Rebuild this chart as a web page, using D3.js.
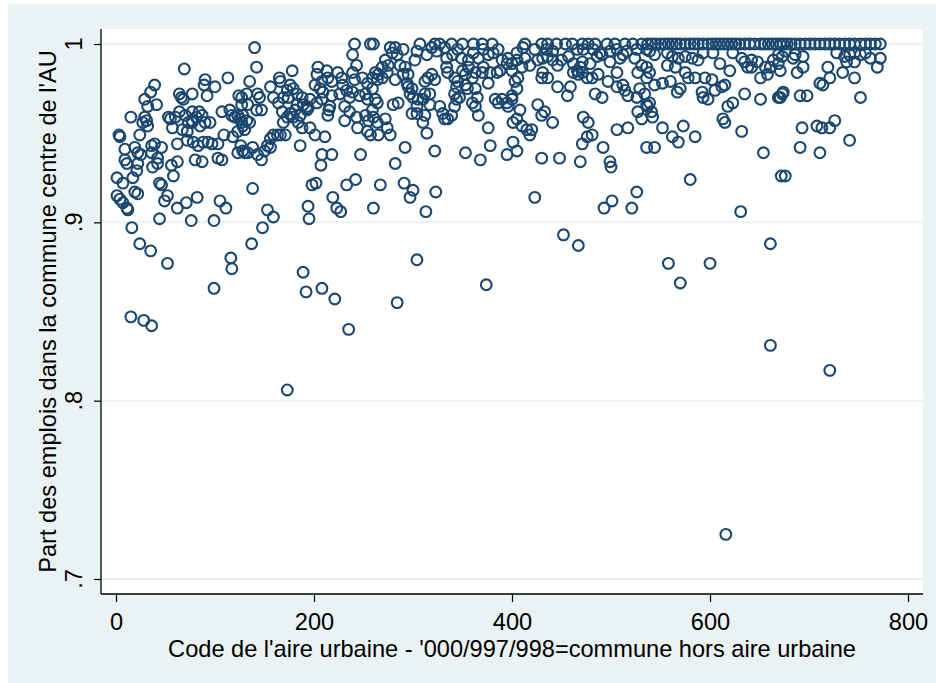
<!DOCTYPE html>
<html>
<head>
<meta charset="utf-8">
<script src="https://cdn.jsdelivr.net/npm/d3@7"></script>
<style>
  body { margin: 0; background: #fff; }
  text { font-family: "Liberation Sans", Arial, sans-serif; fill: #000; }
</style>
</head>
<body>
<svg width="936" height="683"></svg>
<script>
const xTicks = [0, 200, 400, 600, 800];
const yTicks = [0.7, 0.8, 0.9, 1];
const yTickLabels = [".7", ".8", ".9", "1"];
const xTitle = "Code de l'aire urbaine - '000/997/998=commune hors aire urbaine";
const yTitle = "Part des emplois dans la commune centre de l'AU";

// [code de l'aire urbaine, part des emplois]
const airesLow = [
  [69,.986],[39,.977],[35,.973],[29,.969],[32,.965],[41,.966],[15,.959],[29,.959],[31,.957],[27,.956],
  [32,.954],[24,.949],[3,.949],[4,.948],[9,.941],[19,.942],[22,.939],[25,.938],[36,.943],[39,.944],
  [46,.942],[36,.939],[42,.936],[9,.935],[64,.972],[66,.970],[68,.969],[77,.972],[90,.980],[89,.977],
  [100,.976],[92,.971],[113,.981],[53,.959],[55,.958],[60,.959],[64,.962],[70,.960],[77,.962],[84,.962],
  [87,.960],[73,.956],[77,.956],[81,.959],[90,.956],[95,.956],[85,.954],[57,.953],[67,.952],[72,.951],
  [62,.944],[72,.946],[78,.945],[83,.943],[88,.945],[93,.945],[97,.944],[103,.944],[107,.962],[115,.963],
  [117,.960],[120,.959],[123,.960],[127,.956],[109,.949],[118,.948],[123,.951],[126,.943],[123,.939],[103,.936],
  [107,.935],[80,.935],[87,.934],[42,.933],[62,.934],[22,.933],[124,.971],[127,.966],[77,.957],
  [1,.925],[7,.922],[1,.915],[4,.913],[7,.911],[11,.908],[12,.907],[16,.897],[17,.925],[21,.929],
  [19,.917],[22,.916],[11,.933],[37,.931],[56,.932],[58,.926],[44,.922],[46,.921],[52,.915],[49,.912],
  [62,.908],[71,.911],[82,.914],[44,.902],[76,.901],[99,.901],[105,.912],[111,.908],[138,.919],[153,.907],
  [159,.903],[148,.897],[15,.847],[28,.845],[36,.842],[24,.888],[35,.884],[52,.877],[99,.863],[117,.874],
  [116,.880],[137,.888],[173,.806]
];

const airesMidLow = [
  [140,.998],[142,.987],[178,.985],[135,.979],[165,.981],[166,.979],[156,.976],[159,.970],[132,.972],[127,.970],
  [143,.972],[145,.970],[133,.966],[142,.963],[147,.963],[128,.960],[132,.957],[135,.956],[128,.954],[130,.952],
  [125,.958],[176,.977],[179,.975],[173,.974],[183,.972],[174,.970],[188,.970],[196,.969],[169,.970],[164,.967],
  [168,.962],[176,.961],[181,.963],[186,.960],[173,.959],[179,.959],[194,.964],[169,.956],[184,.956],[171,.949],
  [166,.949],[163,.949],[159,.949],[156,.947],[153,.943],[156,.942],[150,.940],[138,.942],[133,.939],[128,.940],
  [130,.939],[143,.938],[147,.935],[186,.943],[188,.953],[196,.953],[201,.949],[211,.948],[208,.938],[218,.938],
  [193,.963],[204,.987],[203,.983],[213,.985],[214,.981],[208,.979],[201,.977],[206,.975],[218,.979],[224,.984],
  [228,.981],[229,.977],[233,.974],[226,.972],[218,.971],[209,.973],[208,.969],[203,.967],[216,.965],[214,.960],
  [215,.963],[231,.965],[236,.970],[239,.973],[246,.971],[241,.980],[239,.984],[243,.988],[239,.994],[241,1],
  [257,1],[260,1],[249,.981],[254,.978],[259,.981],[262,.984],[259,.975],[252,.972],[254,.969],[262,.969],
  [259,.963],[252,.960],[243,.959],[255,.957],[260,.959],[264,.956],[244,.953],[254,.951],[257,.949],[231,.957],
  [236,.962],[183,.966],[189,.966],[193,.965],
  [194,.909],[195,.902],[198,.921],[202,.922],[219,.914],[223,.908],[227,.906],[233,.921],[242,.924],[247,.938],
  [260,.908],[267,.921],[189,.872],[192,.861],[208,.863],[221,.857],[235,.840],[207,.932]
];

const airesMid = [
  [307,1],[322,1],[327,1],[339,1],[350,1],[361,1],[370,1],[380,1],[277,.998],[282,.998],
  [290,.997],[279,.995],[284,.994],[272,.991],[269,.987],[275,.988],[274,.984],[287,.988],[292,.987],[302,.991],
  [304,.996],[314,.994],[319,.998],[324,.996],[332,.998],[334,.992],[340,.994],[345,.997],[349,.992],[356,.991],
  [361,.995],[366,.992],[371,.997],[376,.994],[381,.995],[386,.997],[390,.991],[395,.989],[396,.992],[265,.983],
  [264,.980],[269,.981],[282,.980],[290,.983],[295,.983],[294,.978],[299,.975],[297,.972],[295,.976],[312,.979],
  [315,.981],[319,.983],[322,.980],[334,.987],[335,.984],[342,.981],[345,.979],[344,.976],[350,.985],[353,.983],
  [356,.987],[360,.981],[353,.977],[355,.975],[363,.984],[370,.984],[371,.987],[378,.984],[385,.984],[388,.985],
  [376,.978],[363,.975],[365,.970],[360,.967],[347,.970],[342,.972],[344,.969],[312,.972],[310,.969],[305,.969],
  [300,.970],[304,.965],[299,.961],[304,.961],[312,.960],[317,.966],[317,.972],[327,.965],[330,.961],[332,.958],
  [335,.958],[339,.960],[342,.965],[363,.965],[366,.960],[383,.969],[386,.967],[390,.969],[395,.967],[400,.971],
  [396,.965],[401,.956],[280,.966],[285,.967],[264,.967],[272,.958],[274,.953],[277,.949],[265,.949],[310,.956],
  [314,.950],[292,.942],[322,.940],[353,.939],[368,.935],[378,.943],[395,.938],[376,.953],[282,.933],
  [284,.855],[291,.922],[297,.914],[300,.918],[304,.879],[313,.906],[323,.917],[374,.865]
];

const airesMidHigh = [
  [413,1],[430,1],[436,1],[445,1],[454,1],[461,1],[471,1],[477,1],[484,1],[496,1],
  [504,1],[514,1],[522,1],[531,1],
  [411,.998],[423,.997],[435,.997],[441,.996],[466,.997],[472,.997],[482,.997],[489,.995],[499,.996],[506,.997],
  [516,.996],[526,.997],[536,.997],
  [405,.995],[413,.992],[418,.988],[426,.991],[431,.992],[436,.993],[441,.991],[446,.988],[450,.991],[457,.993],
  [462,.989],[466,.985],[469,.987],[471,.990],[479,.989],[486,.993],[491,.994],[499,.990],[509,.992],[512,.994],
  [524,.992],[531,.988],[405,.991],[400,.989],[410,.987],[431,.984],[430,.981],[436,.981],[462,.984],[467,.983],
  [471,.984],[476,.981],[481,.981],[487,.983],[506,.984],[527,.984],[536,.987],[400,.985],[406,.981],[403,.979],
  [446,.976],[459,.976],[456,.971],[484,.972],[491,.970],[497,.979],[506,.976],[512,.977],[514,.974],[517,.971],
  [526,.970],[529,.975],[536,.981],[405,.975],[400,.969],[426,.966],[430,.960],[433,.962],[408,.963],[405,.958],
  [410,.954],[415,.952],[420,.952],[418,.949],[441,.956],[472,.959],[477,.956],[476,.948],[481,.949],[471,.944],
  [492,.942],[506,.952],[517,.953],[527,.962],[531,.958],[536,.966],[430,.936],[448,.936],[469,.934],[499,.934],
  [405,.940],[401,.945],[536,.942],
  [423,.914],[452,.893],[467,.887],[493,.908],[501,.912],[500,.931],[521,.908],[526,.917]
];

const airesHigh = [
  [537,1],[541,1],[545,1],[550,1],[554,1],[558,1],[562,1],[566,1],[570,1],[575,1],
  [580,1],[584,1],[588,1],[593,1],[598,1],[602,1],[606,1],[610,1],[614,1],[618,1],
  [622,1],[626,1],[630,1],[635,1],[640,1],[645,1],[651,1],[655,1],[659,1],[663,1],
  [667,1],[671,1],
  [539,.996],[544,.994],[557,.995],[562,.993],[568,.992],[575,.993],[582,.992],[588,.991],[593,.995],[603,.995],
  [610,.989],[623,.995],[632,.992],[635,.990],[642,.991],[648,.990],[656,.987],[664,.991],[669,.994],
  [539,.984],[557,.988],[565,.987],[575,.984],[578,.981],[585,.981],[595,.981],[602,.980],[620,.985],[615,.977],
  [638,.987],[642,.987],[651,.981],[658,.983],[661,.987],[669,.989],[673,.993],[544,.977],[552,.978],[560,.979],
  [567,.973],[570,.975],[592,.973],[593,.970],[598,.969],[605,.974],[612,.976],[635,.972],[651,.969],[669,.970],
  [673,.972],[534,.972],[539,.967],[537,.965],[541,.962],[542,.959],[618,.965],[623,.967],[613,.958],[615,.956],
  [552,.953],[573,.954],[562,.948],[568,.945],[585,.948],[632,.951],[544,.942],[654,.939],
  [558,.877],[570,.866],[580,.924],[600,.877],[616,.725],[631,.906],[661,.888],[661,.831],[672,.926],[676,.926]
];

const airesTop = [
  [674,1],[678,1],[682,1],[686,1],[691,1],[696,1],[701,1],[706,1],[711,1],[716,1],
  [721,1],[726,1],[731,1],[736,1],[741,1],[746,1],[752,1],[757,1],[762,1],[767,1],
  [772,1],
  [676,.996],[686,.994],[694,.993],[684,.992],[728,.995],[736,.993],[741,.994],[746,.995],[752,.994],[757,.995],
  [762,.992],[772,.992],[738,.990],[746,.990],[694,.987],[688,.984],[719,.987],[721,.981],[734,.984],[746,.981],
  [769,.987],[671,.985],[711,.978],[714,.977],[674,.973],[671,.970],[691,.971],[698,.971],[752,.970],[693,.953],
  [708,.954],[713,.953],[721,.953],[726,.957],[691,.942],[711,.939],[741,.946],
  [721,.817]
];

const points = [...airesLow, ...airesMidLow, ...airesMid, ...airesMidHigh, ...airesHigh, ...airesTop];

const svg = d3.select("svg"),
  plot = { left: 101, right: 923, top: 29, bottom: 594 },
  navy = "#1a476f",
  bg = "#eaf2f3",
  fontSize = 23.6;

const x = d3.scaleLinear().domain([0, 800]).range([116, 908]);
const y = d3.scaleLinear().domain([0.7, 1]).range([579, 44]);

// graph region + plot region
svg.append("rect")
  .attr("x", 8).attr("y", 4)
  .attr("width", 928).attr("height", 679)
  .style("fill", bg);
svg.append("rect")
  .attr("x", plot.left).attr("y", plot.top)
  .attr("width", plot.right - plot.left).attr("height", plot.bottom - plot.top)
  .style("fill", "#fff");

// grid
svg.append("g")
  .selectAll("line")
  .data(yTicks)
  .enter()
  .append("line")
  .attr("x1", plot.left).attr("x2", plot.right)
  .attr("y1", d => y(d)).attr("y2", d => y(d))
  .style("stroke", bg)
  .style("stroke-width", 2);

// points
svg.append("g")
  .selectAll("circle")
  .data(points)
  .enter()
  .append("circle")
  .attr("cx", d => x(d[0]))
  .attr("cy", d => y(d[1]))
  .attr("r", 5.4)
  .style("fill", "none")
  .style("stroke", navy)
  .style("stroke-width", 2.1);

// axes
const xAxis = svg.append("g")
  .attr("transform", `translate(0,${plot.bottom})`)
  .call(d3.axisBottom(x).tickValues(xTicks).tickSizeInner(8).tickSizeOuter(0).tickPadding(11));
xAxis.select(".domain").remove();
xAxis.selectAll("line").style("stroke", "#000").style("stroke-width", 1.2);
xAxis.selectAll("text")
  .style("font-family", '"Liberation Sans", Arial, sans-serif')
  .style("font-size", fontSize + "px")
  .style("fill", "#000");

const yAxis = svg.append("g")
  .attr("transform", `translate(${plot.left},0)`)
  .call(d3.axisLeft(y).tickValues(yTicks).tickSizeInner(7).tickSizeOuter(0).tickFormat(""));
yAxis.select(".domain").remove();
yAxis.selectAll("line").style("stroke", "#000").style("stroke-width", 1.2);

svg.append("g")
  .selectAll("text")
  .data(yTicks)
  .enter()
  .append("text")
  .attr("transform", d => `translate(82,${y(d)}) rotate(-90)`)
  .attr("text-anchor", "middle")
  .style("font-size", fontSize + "px")
  .text((d, i) => yTickLabels[i]);

svg.append("line")
  .attr("x1", plot.left).attr("x2", plot.left)
  .attr("y1", plot.top).attr("y2", plot.bottom)
  .style("stroke", "#000").style("stroke-width", 1.3);
svg.append("line")
  .attr("x1", plot.left).attr("x2", plot.right)
  .attr("y1", plot.bottom).attr("y2", plot.bottom)
  .style("stroke", "#000").style("stroke-width", 1.3);

// titles
svg.append("text")
  .attr("x", (plot.left + plot.right) / 2)
  .attr("y", 657)
  .attr("text-anchor", "middle")
  .style("font-size", fontSize + "px")
  .text(xTitle);

svg.append("text")
  .attr("transform", `translate(56,${(plot.top + plot.bottom) / 2}) rotate(-90)`)
  .attr("text-anchor", "middle")
  .style("font-size", fontSize + "px")
  .text(yTitle);
</script>
</body>
</html>
